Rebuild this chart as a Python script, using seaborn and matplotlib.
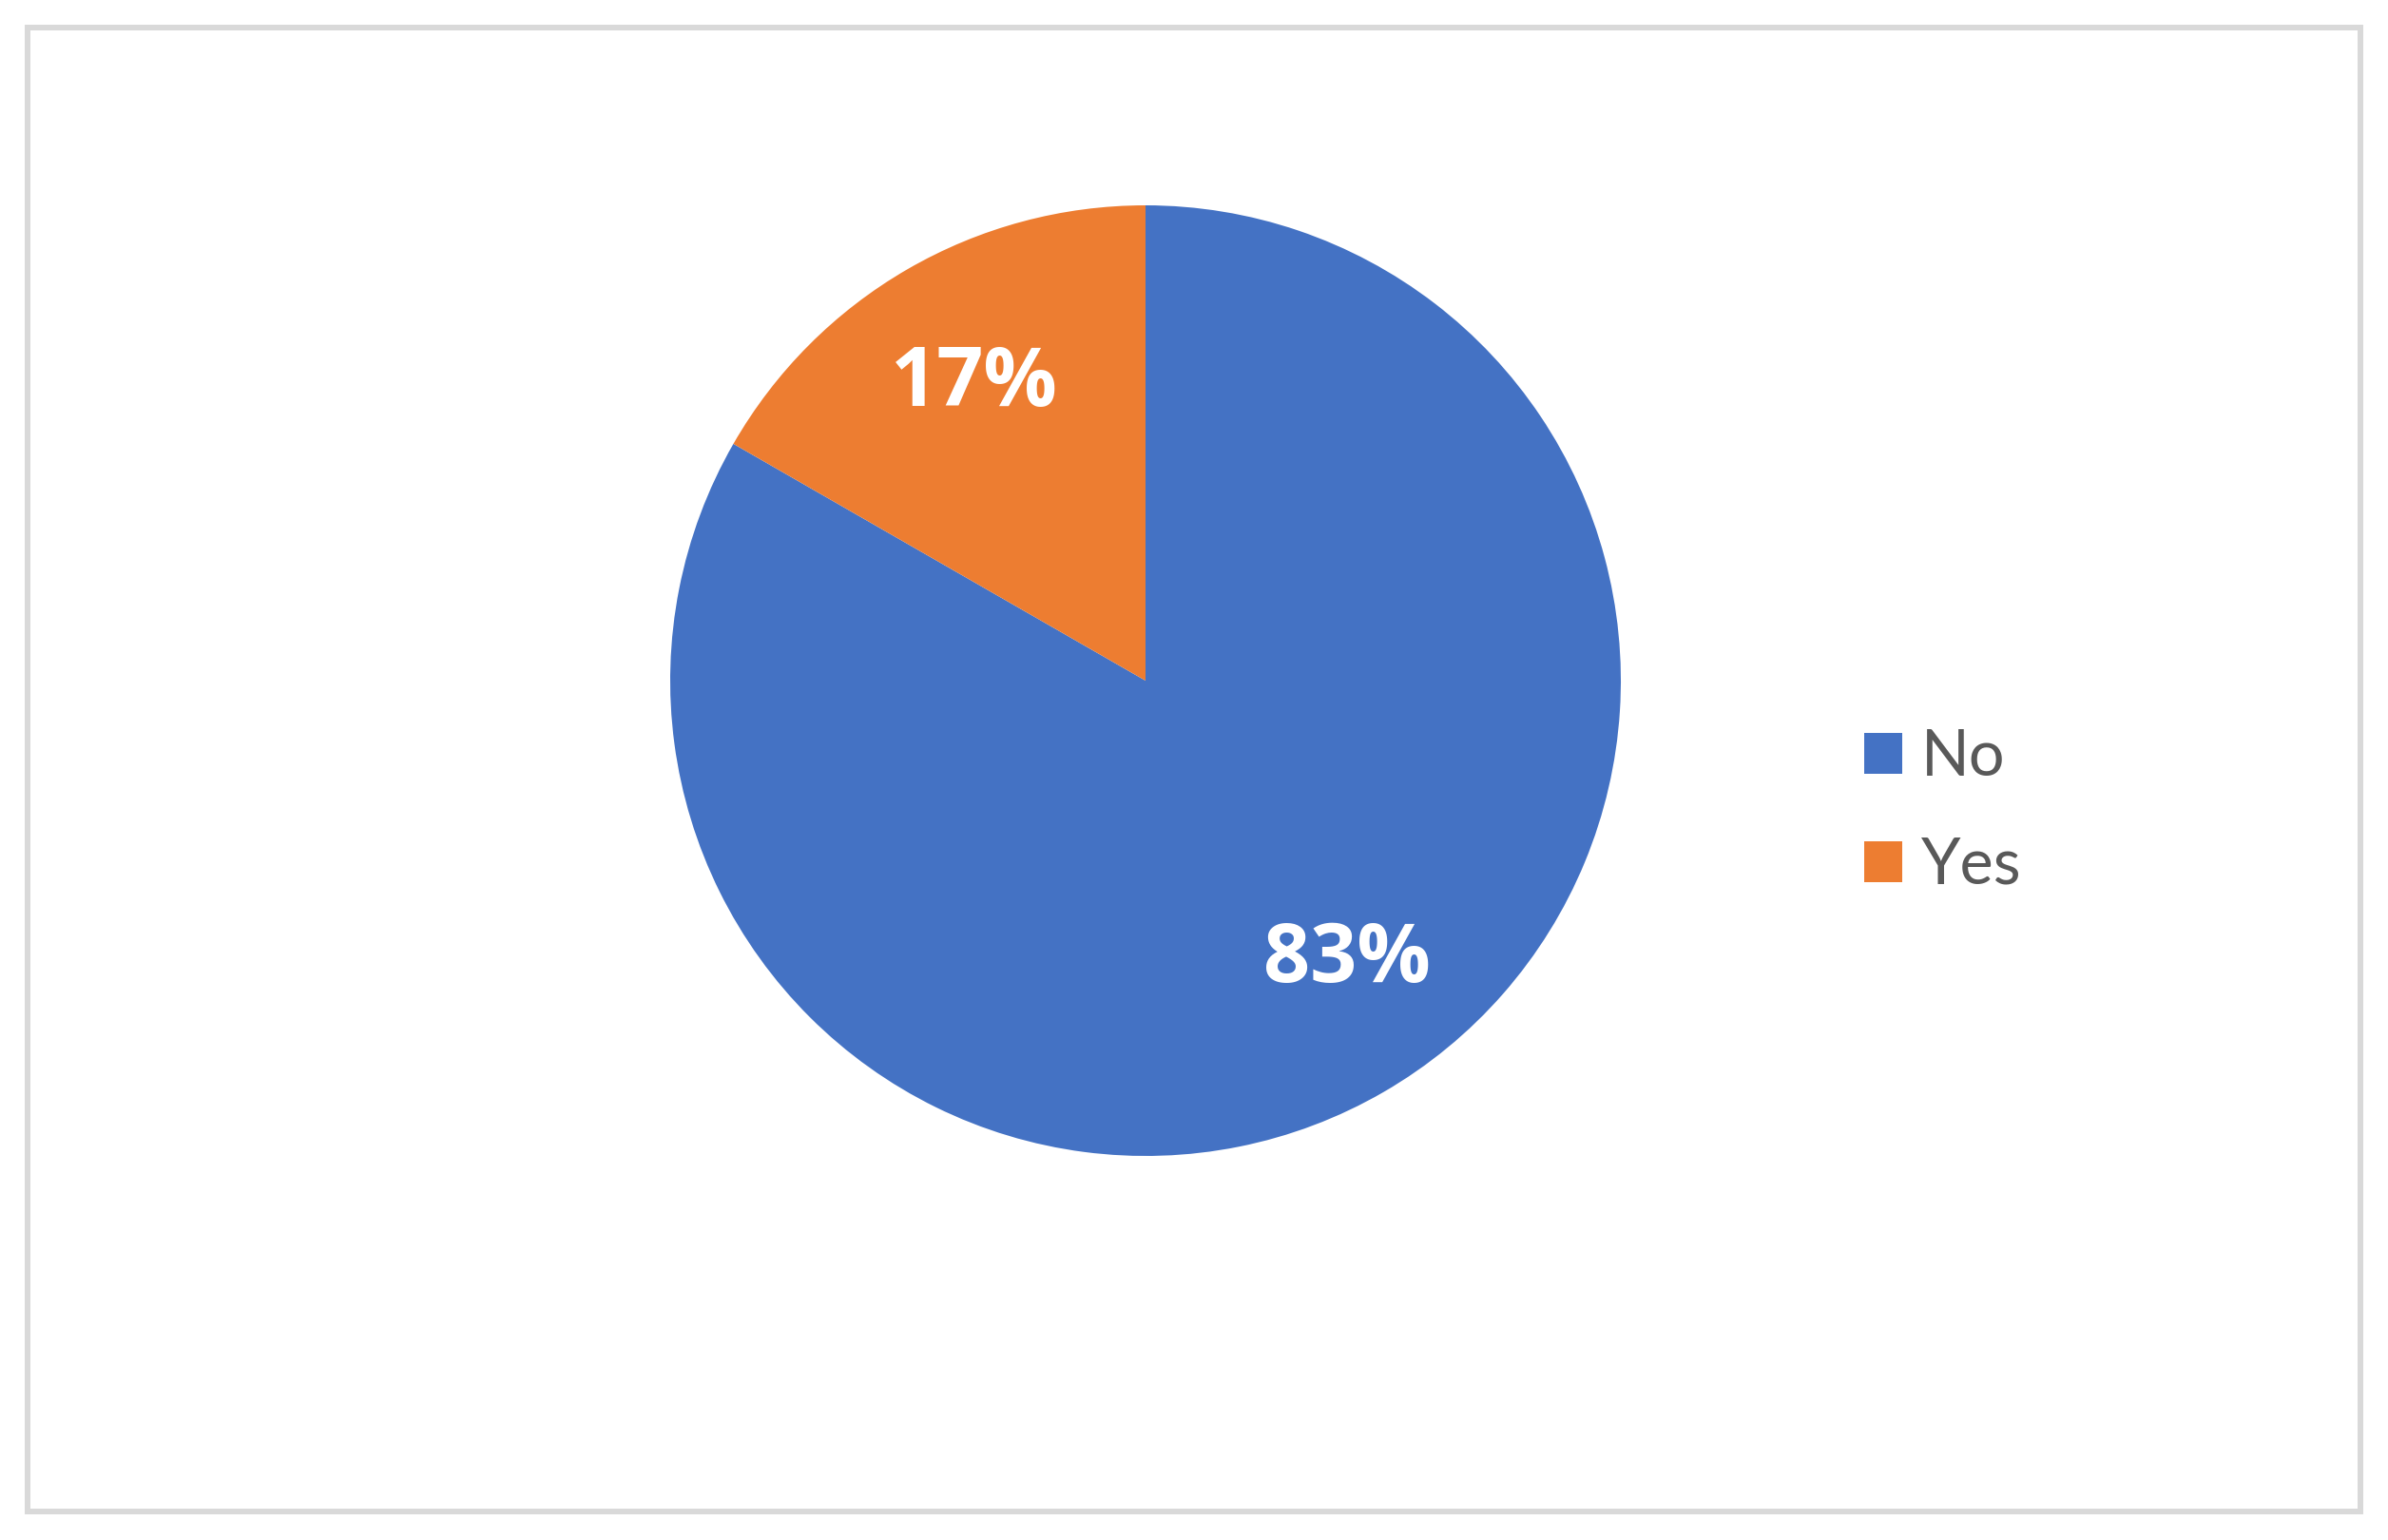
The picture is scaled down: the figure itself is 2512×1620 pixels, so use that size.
import numpy as np
import matplotlib
matplotlib.use("Agg")
import matplotlib.pyplot as plt
from matplotlib.patches import Patch, Rectangle
import seaborn as sns

# ---------------------------------------------------------------------------
# DATA
# ---------------------------------------------------------------------------
categories = ["No", "Yes"]
shares = [83.3, 16.7]
colors = ["#4472C4", "#ED7D31"]

# ---------------------------------------------------------------------------
# FIGURE
# ---------------------------------------------------------------------------
sns.set_theme(style="white")
plt.rcParams["font.family"] = ["Lato", "DejaVu Sans"]

W, H = 2512, 1620
fig = plt.figure(figsize=(W / 100, H / 100), dpi=100)
fig.patch.set_facecolor("white")

# light grey chart-area border
fig.patches.append(Rectangle((29 / W, 1 - 1590 / H), 2454 / W, 1561 / H,
                             transform=fig.transFigure, fill=False,
                             edgecolor="#D9D9D9", linewidth=4.3))

ax = fig.add_axes([705 / W, 1 - 1216 / H, 1000 / W, 1000 / H])
wedges, texts, autotexts = ax.pie(
    shares, colors=colors, startangle=90, counterclock=False,
    autopct="%.0f%%", pctdistance=0.72, radius=1,
    wedgeprops=dict(linewidth=0),
    textprops=dict(color="white", fontsize=62, fontweight="bold",
                   family=["Open Sans", "DejaVu Sans"]),
)
# Excel nudges the big label a little toward the legend side
ang = np.deg2rad(-54.2)
autotexts[0].set_position((0.725 * np.cos(ang), 0.725 * np.sin(ang)))

ax.set_xlim(-1, 1)
ax.set_ylim(-1, 1)
ax.set_aspect("equal")
ax.axis("off")

handles = [Patch(facecolor=c, edgecolor="none") for c in colors]
fig.legend(handles, categories, loc="center left",
           bbox_to_anchor=(1961 / W, 1 - 854 / H), frameon=False,
           fontsize=48, labelcolor="#595959", handlelength=0.6,
           handleheight=0.6, handletextpad=0.3, labelspacing=0.78,
           borderpad=0, borderaxespad=0)

fig.savefig("out.png", dpi=100, facecolor="white")
plt.close(fig)
